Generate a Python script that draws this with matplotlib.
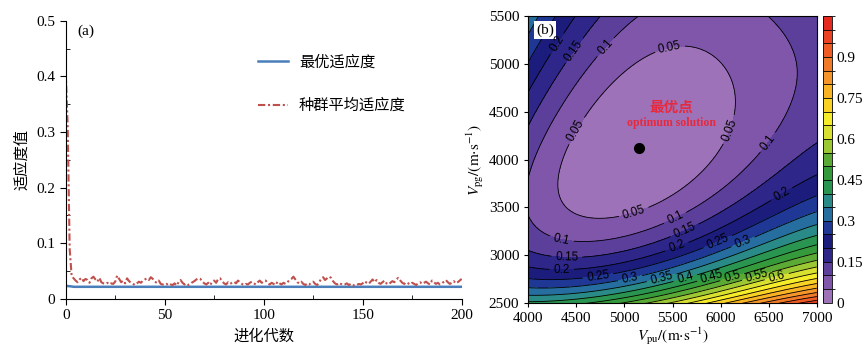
import numpy as np
import matplotlib
matplotlib.use('Agg')
import matplotlib.pyplot as plt
from matplotlib.colors import ListedColormap, BoundaryNorm
from matplotlib.ticker import MultipleLocator, FuncFormatter

plt.rcParams['font.family'] = ['Liberation Serif', 'Noto Sans CJK SC']
plt.rcParams['mathtext.fontset'] = 'stix'
plt.rcParams['font.size'] = 11

# ---------------- (a) GA convergence ----------------
generations = np.arange(201)
best_fitness = [0.0235, 0.0232, 0.0228, 0.0224] + [0.0218] * 197
mean_fitness = [
    0.410, 0.310, 0.090, 0.041, 0.037, 0.033, 0.030, 0.035, 0.038, 0.032,
    0.036, 0.034, 0.029, 0.037, 0.040, 0.035, 0.031, 0.038, 0.030, 0.028,
    0.027, 0.029, 0.026, 0.028, 0.027, 0.031, 0.042, 0.036, 0.030, 0.033,
    0.028, 0.037, 0.032, 0.029, 0.027, 0.025, 0.028, 0.031, 0.029, 0.033,
    0.035, 0.037, 0.034, 0.039, 0.036, 0.031, 0.029, 0.033, 0.027, 0.026,
    0.025, 0.027, 0.024, 0.026, 0.025, 0.028, 0.024, 0.030, 0.034, 0.029,
    0.026, 0.028, 0.025, 0.027, 0.030, 0.032, 0.035, 0.037, 0.036, 0.031,
    0.028, 0.026, 0.029, 0.025, 0.031, 0.033, 0.029, 0.036, 0.037, 0.032,
    0.028, 0.026, 0.030, 0.027, 0.029, 0.031, 0.028, 0.033, 0.030, 0.027,
    0.025, 0.027, 0.026, 0.029, 0.031, 0.028, 0.026, 0.030, 0.033, 0.029,
    0.031, 0.033, 0.028, 0.026, 0.029, 0.027, 0.025, 0.031, 0.028, 0.026,
    0.029, 0.027, 0.030, 0.034, 0.036, 0.040, 0.035, 0.030, 0.028, 0.031,
    0.027, 0.025, 0.028, 0.026, 0.029, 0.031, 0.027, 0.025, 0.030, 0.036,
    0.039, 0.034, 0.037, 0.040, 0.038, 0.032, 0.028, 0.026, 0.029, 0.027,
    0.025, 0.026, 0.028, 0.025, 0.027, 0.024, 0.026, 0.025, 0.027, 0.026,
    0.028, 0.032, 0.029, 0.027, 0.031, 0.035, 0.030, 0.034, 0.029, 0.027,
    0.030, 0.033, 0.028, 0.026, 0.029, 0.032, 0.030, 0.035, 0.038, 0.033,
    0.029, 0.027, 0.030, 0.028, 0.026, 0.029, 0.027, 0.025, 0.028, 0.030,
    0.027, 0.029, 0.031, 0.028, 0.026, 0.033, 0.030, 0.027, 0.029, 0.026,
    0.028, 0.031, 0.034, 0.030, 0.027, 0.029, 0.032, 0.028, 0.030, 0.033,
    0.036,
]

# ---------------- (b) misfit surface ----------------
# best model (Vpu, Vpg) in m/s
VPU_BEST, VPG_BEST = 5149, 4125

# picked points along the misfit iso-lines, (Vpu, Vpg)
iso_005 = [(5748, 5141), (5920, 4967), (6024, 4724), (6059, 4515), (5956, 4167),
           (5852, 3992), (5678, 3818), (5471, 3679), (5229, 3556), (4917, 3470),
           (4710, 3470), (4537, 3540), (4467, 3679), (4467, 3853), (4502, 4027),
           (4675, 4445), (4814, 4689), (4986, 4898), (5194, 5037), (5401, 5124)]
iso_010 = [(4969, 5490), (4797, 5176), (4560, 4850), (4330, 4500), (4140, 4200),
           (4060, 3900), (4040, 3650), (4080, 3400), (4180, 3250), (4347, 3176),
           (4600, 3150), (4866, 3200), (5108, 3270), (5350, 3360), (5505, 3435),
           (5713, 3574), (5956, 3713), (6163, 3853), (6371, 4027), (6509, 4167),
           (6682, 4410), (6786, 4689), (6820, 4933), (6786, 5212), (6716, 5490)]
iso_015 = [(4658, 5490), (4519, 5107), (4250, 4700), (4000, 4400), (4000, 3020),
           (4399, 2955), (4800, 3040), (5200, 3160), (5609, 3295), (5886, 3435),
           (6232, 3609), (6578, 3783), (7000, 4050)]
iso_020 = [(4470, 5490), (4347, 5176), (4150, 4950), (4000, 4780), (4000, 2864),
           (4347, 2808), (4800, 2880), (5200, 2980), (5540, 3104), (5886, 3227),
           (6232, 3400), (6630, 3645), (7000, 3830)]
iso_025 = [(4300, 5490), (4000, 5100), (4000, 2737), (4727, 2773), (5300, 2950),
           (5956, 3176), (6500, 3420), (7000, 3650)]
iso_030 = [(4120, 5490), (4000, 5330), (4000, 2653), (5056, 2773), (5600, 2930),
           (6232, 3141), (7000, 3470)]
# single picks: (Vpu, Vpg, misfit)
misfit_picks = [(4000, 2580, 0.35), (4000, 2528, 0.40), (5385, 2773, 0.35),
                (5630, 2773, 0.40), (5910, 2773, 0.45), (6120, 2773, 0.50),
                (6380, 2773, 0.55), (6585, 2773, 0.60), (7000, 2773, 0.68),
                (7000, 3209, 0.40), (7000, 3023, 0.50), (7000, 2879, 0.60),
                (7000, 2660, 0.80), (4000, 2500, 0.42), (4500, 2500, 0.44),
                (5000, 2500, 0.51), (5500, 2500, 0.60), (6000, 2500, 0.74),
                (6500, 2500, 0.87), (7000, 2500, 1.00), (4000, 3300, 0.12),
                (4000, 3600, 0.105), (4000, 3900, 0.11), (4000, 5500, 0.34),
                (4200, 5500, 0.28), (5800, 5500, 0.065), (7000, 5500, 0.12),
                (7000, 5000, 0.115), (7000, 4500, 0.13)]

iso_levels = [0.05, 0.10, 0.15, 0.20, 0.25, 0.30]
iso_sets = [iso_005, iso_010, iso_015, iso_020, iso_025, iso_030]


def poly_terms(vpu, vpg):
    # velocity deviation for Vpu, slowness deviation for Vpg
    p = 1.0 - np.asarray(vpu, float) / VPU_BEST
    q = VPG_BEST / np.asarray(vpg, float) - 1.0
    return np.stack([p**2, p*q, q**2, p**3, p**2*q, p*q**2, q**3,
                     p**4, p**3*q, p**2*q**2, p*q**3, q**4], axis=-1)


pu, pg, pm, wt = [], [], [], []
for lev, pts in zip(iso_levels, iso_sets):
    for u, g in pts:
        pu.append(u); pg.append(g); pm.append(lev)
        wt.append(2.0 if u in (4000, 7000) or g in (2500, 5500) else 1.0)
for u, g, m in misfit_picks:
    pu.append(u); pg.append(g); pm.append(m); wt.append(2.0)
wt = np.array(wt)

coef, *_ = np.linalg.lstsq(poly_terms(pu, pg) * wt[:, None], np.array(pm) * wt,
                           rcond=None)

vpu_axis = np.linspace(4000, 7000, 301)
vpg_axis = np.linspace(2500, 5500, 301)
VU, VG = np.meshgrid(vpu_axis, vpg_axis)
misfit = np.clip(poly_terms(VU, VG) @ coef, 0.0, 1.049)

band_colors = ['#9d72b9', '#7f56a9', '#5b3f9b', '#2e2689', '#1b1c7b', '#1f3795',
               '#276ea0', '#2a8a88', '#2a9550', '#359a3c', '#5aaa35', '#9cc834',
               '#d8e030', '#f5ec2a', '#f8d224', '#f8b422', '#f5962a', '#f07a28',
               '#ee5c24', '#ea4222', '#e52a20']
fill_levels = np.round(np.arange(0, 1.051, 0.05), 2)
line_levels = np.round(np.arange(0.05, 1.001, 0.05), 2)
cmap = ListedColormap(band_colors)
norm = BoundaryNorm(fill_levels, cmap.N)

# contour label anchors
label_spots = [(5475, 5145), (4610, 4235), (6015, 4340), (5080, 3505),
               (4797, 5176), (6509, 4167), (5505, 3435), (4347, 3176),
               (4519, 5107), (5609, 3295), (4399, 2955),
               (4347, 5176), (5540, 3104), (4347, 2808), (6630, 3645),
               (5956, 3176), (4727, 2773), (6232, 3141), (5056, 2773),
               (5385, 2773), (5630, 2773), (5910, 2773), (6120, 2773),
               (6380, 2773), (6585, 2773)]

fig = plt.figure(figsize=(8.68, 3.48), dpi=100)

# ---- left panel ----
ax1 = fig.add_axes([0.0757, 0.141, 0.4562, 0.7995])
ax1.plot(generations, best_fitness, color='#4a7ebb', lw=1.8, label='最优适应度')
ax1.plot(generations, mean_fitness, color='#c0504d', lw=1.5,
         linestyle=(0, (3.5, 1.3, 1, 1.3)), label='种群平均适应度')
ax1.set_xlim(0, 200)
ax1.set_ylim(0, 0.5)
ax1.spines['top'].set_visible(False)
ax1.spines['right'].set_visible(False)
ax1.xaxis.set_major_locator(MultipleLocator(50))
ax1.xaxis.set_minor_locator(MultipleLocator(25))
ax1.yaxis.set_major_locator(MultipleLocator(0.1))
ax1.yaxis.set_minor_locator(MultipleLocator(0.05))
ax1.yaxis.set_major_formatter(FuncFormatter(lambda v, _: f'{v:g}'))
ax1.tick_params(which='major', direction='out', length=4, labelsize=11)
ax1.tick_params(which='minor', direction='in', length=3)
ax1.set_xlabel('进化代数', fontsize=11, labelpad=5)
ax1.set_ylabel('适应度值', fontsize=11, labelpad=5)
ax1.text(0.03, 0.985, '(a)', transform=ax1.transAxes, fontsize=11, va='top')
ax1.legend(loc='upper left', bbox_to_anchor=(0.45, 0.925), frameon=False,
           fontsize=11, handlelength=2.0, handletextpad=0.7, labelspacing=1.9)

# ---- right panel ----
ax2 = fig.add_axes([0.6087, 0.1284, 0.3323, 0.8265])
cf = ax2.contourf(VU, VG, misfit, levels=fill_levels, cmap=cmap, norm=norm)
cs = ax2.contour(VU, VG, misfit, levels=line_levels, colors='k', linewidths=0.6)
ax2.clabel(cs, levels=line_levels[:12], manual=label_spots, inline=True,
           fontsize=8.5, fmt=lambda v: f'{v:g}')
for t in cs.labelTexts:
    t.set_family('Liberation Sans')
ax2.plot(VPU_BEST, VPG_BEST, 'o', color='k', ms=7)
ax2.text(5492, 4535, '最优点', color='#e8283c', fontsize=10.5, fontweight='bold',
         ha='center', va='center')
ax2.text(5492, 4379, 'optimum solution', color='#e8283c', fontsize=8.5,
         fontweight='bold', ha='center', va='center')
ax2.text(4080, 5420, '(b)', fontsize=11, va='top', ha='left',
         bbox=dict(facecolor='white', edgecolor='none', pad=1.5))
ax2.set_xlim(4000, 7000)
ax2.set_ylim(2500, 5500)
ax2.xaxis.set_major_locator(MultipleLocator(500))
ax2.yaxis.set_major_locator(MultipleLocator(500))
ax2.tick_params(direction='out', length=3, labelsize=11)
ax2.set_xlabel(r'$V_{\rm pu}/(\rm m{\cdot}s^{-1})$', fontsize=11, labelpad=0)
ax2.set_ylabel(r'$V_{\rm pg}/(\rm m{\cdot}s^{-1})$', fontsize=11, labelpad=2)

cax = fig.add_axes([0.9485, 0.130, 0.0104, 0.824])
cb = fig.colorbar(cf, cax=cax, ticks=[0, 0.15, 0.3, 0.45, 0.6, 0.75, 0.9])
cb.ax.set_yticklabels(['0', '0.15', '0.3', '0.45', '0.6', '0.75', '0.9'])
cb.ax.tick_params(length=0, labelsize=11, pad=3)
cb.add_lines(cs)
cb.outline.set_linewidth(0.6)

fig.savefig('out.png', dpi=100)
